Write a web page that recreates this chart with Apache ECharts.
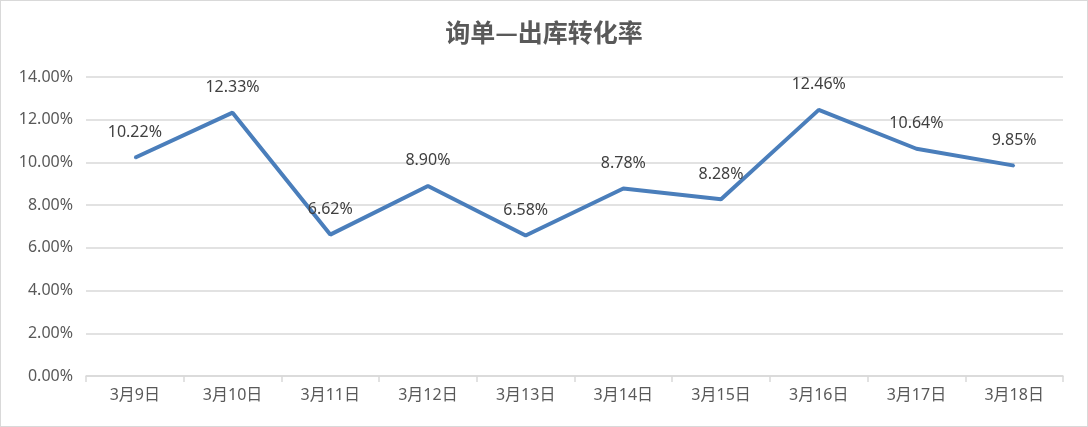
<!DOCTYPE html>
<html><head><meta charset="utf-8">
<script src="https://cdn.jsdelivr.net/npm/echarts@6/dist/echarts.min.js"></script>
<style>html,body{margin:0;padding:0;background:#fff}#c{width:1086px;height:425px;border:1px solid #d9d9d9;}</style>
</head><body><div id="c"></div>
<script>
var titleText = '询单—出库转化率';
var categories = ['3月9日','3月10日','3月11日','3月12日','3月13日','3月14日','3月15日','3月16日','3月17日','3月18日'];
var rates = [10.22, 12.33, 6.62, 8.90, 6.58, 8.78, 8.28, 12.46, 10.64, 9.85];
var yTicks = {min: 0, max: 14, interval: 2};

var chart = echarts.init(document.getElementById('c'));
var fontCN = '"Noto Sans CJK SC",sans-serif';
var fontLat = '"Noto Sans","Noto Sans CJK SC",sans-serif';
chart.setOption({
  animation: false,
  title: {text: titleText, left: 'center', top: 14, textStyle: {fontFamily: fontCN, fontSize: 25, fontWeight: 'bold', color: '#595959'}},
  grid: {left: 85, right: 24, top: 76, bottom: 50},
  xAxis: {
    type: 'category', data: categories, boundaryGap: true,
    axisLine: {lineStyle: {color: '#d9d9d9', width: 1.5}},
    axisTick: {show: true, length: 6, lineStyle: {color: '#d9d9d9', width: 1.5}},
    axisLabel: {fontFamily: fontLat, fontSize: 16, color: '#595959', margin: 11}
  },
  yAxis: {
    type: 'value', min: yTicks.min, max: yTicks.max, interval: yTicks.interval,
    axisLine: {show: false}, axisTick: {show: false},
    splitLine: {lineStyle: {color: '#d9d9d9', width: 1.5}},
    axisLabel: {fontFamily: fontLat, fontSize: 16, color: '#595959', margin: 13,
      formatter: function(v){ return v.toFixed(2) + '%'; }}
  },
  series: [{
    type: 'line', data: rates, symbol: 'circle', symbolSize: 2, showSymbol: true,
    lineStyle: {color: '#4a7ebb', width: 4},
    itemStyle: {color: '#4a7ebb'},
    label: {show: true, position: 'top', distance: 16, fontFamily: fontLat, fontSize: 16, color: '#404040',
      formatter: function(p){ return p.value.toFixed(2) + '%'; }}
  }]
});
</script></body></html>
